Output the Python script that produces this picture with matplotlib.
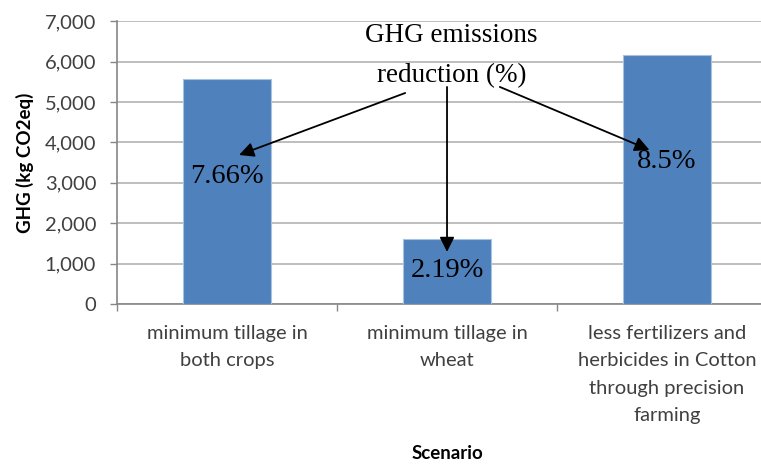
import matplotlib.pyplot as plt
import numpy as np

# values
scenarios = ["minimum tillage in\nboth crops",
             "minimum tillage in\nwheat",
             "less fertilizers and\nherbicides in Cotton\nthrough precision\nfarming"]
ghg = [5570, 1600, 6170]
reduction = [7.66, 2.19, 8.5]
yticks = [0, 1000, 2000, 3000, 4000, 5000, 6000, 7000]

sans = "Lato"
serif = "Liberation Serif"

fig = plt.figure(figsize=(7.61, 4.65), dpi=100)
ax = fig.add_axes([0.1537, 0.3462, 0.8463, 0.608])

x = np.arange(len(scenarios))
ax.bar(x, ghg, width=0.4, color="#4F81BD", edgecolor="#A9C2E0", linewidth=0.8, zorder=3)

ax.set_xlim(-0.5, 2.427)
ax.set_ylim(0, 7000)
ax.set_yticks(yticks)
ax.set_yticklabels([f"{v:,}" for v in yticks], fontfamily=sans, fontsize=14.5, color="#404040")
ax.grid(axis="y", color="#BEBEBE", linewidth=1.4, zorder=0)

# category boundaries carry tick marks, centres carry the labels
ax.set_xticks([-0.5, 0.5, 1.5])
ax.set_xticklabels([])
ax.set_xticks(x, minor=True)
ax.set_xticklabels(scenarios, minor=True, fontfamily=sans, fontsize=14.5,
                   color="#404040", linespacing=1.75)
ax.tick_params(axis="x", which="major", length=5, color="#868686", width=1)
ax.tick_params(axis="x", which="minor", length=0, pad=15)
ax.tick_params(axis="y", length=5, color="#868686", width=1, pad=10)

for s in ["top", "right"]:
    ax.spines[s].set_visible(False)
for s in ["left", "bottom"]:
    ax.spines[s].set_color("#868686")
    ax.spines[s].set_linewidth(1.2)

ax.set_ylabel("GHG (kg CO2eq)", fontfamily=sans, fontsize=13.5, fontweight="bold", labelpad=8)
ax.text(1.0, -3690, "Scenario", ha="center", va="center", fontfamily=sans,
        fontsize=13.5, fontweight="bold")

# annotation in the plot
ax.text(1.02, 6150, "GHG emissions\nreduction (%)", ha="center", va="center",
        fontfamily=serif, fontsize=19.5, linespacing=1.75, zorder=5)
arrows = [((0.81, 5225), (0.055, 3690)),
          ((1.0, 5375), (1.0, 1290)),
          ((1.24, 5375), (1.92, 3815))]
for start, end in arrows:
    ax.annotate("", xy=end, xytext=start,
                arrowprops=dict(arrowstyle="-|>", color="black", lw=1.3,
                                mutation_scale=22, shrinkA=0, shrinkB=0),
                zorder=6)
label_y = [3145, 842, 3517]
for i, r in enumerate(reduction):
    ax.text(x[i], label_y[i], f"{r:g}%", ha="center", va="center",
            fontfamily=serif, fontsize=20.5, zorder=6)

fig.savefig("out.png", dpi=100)
